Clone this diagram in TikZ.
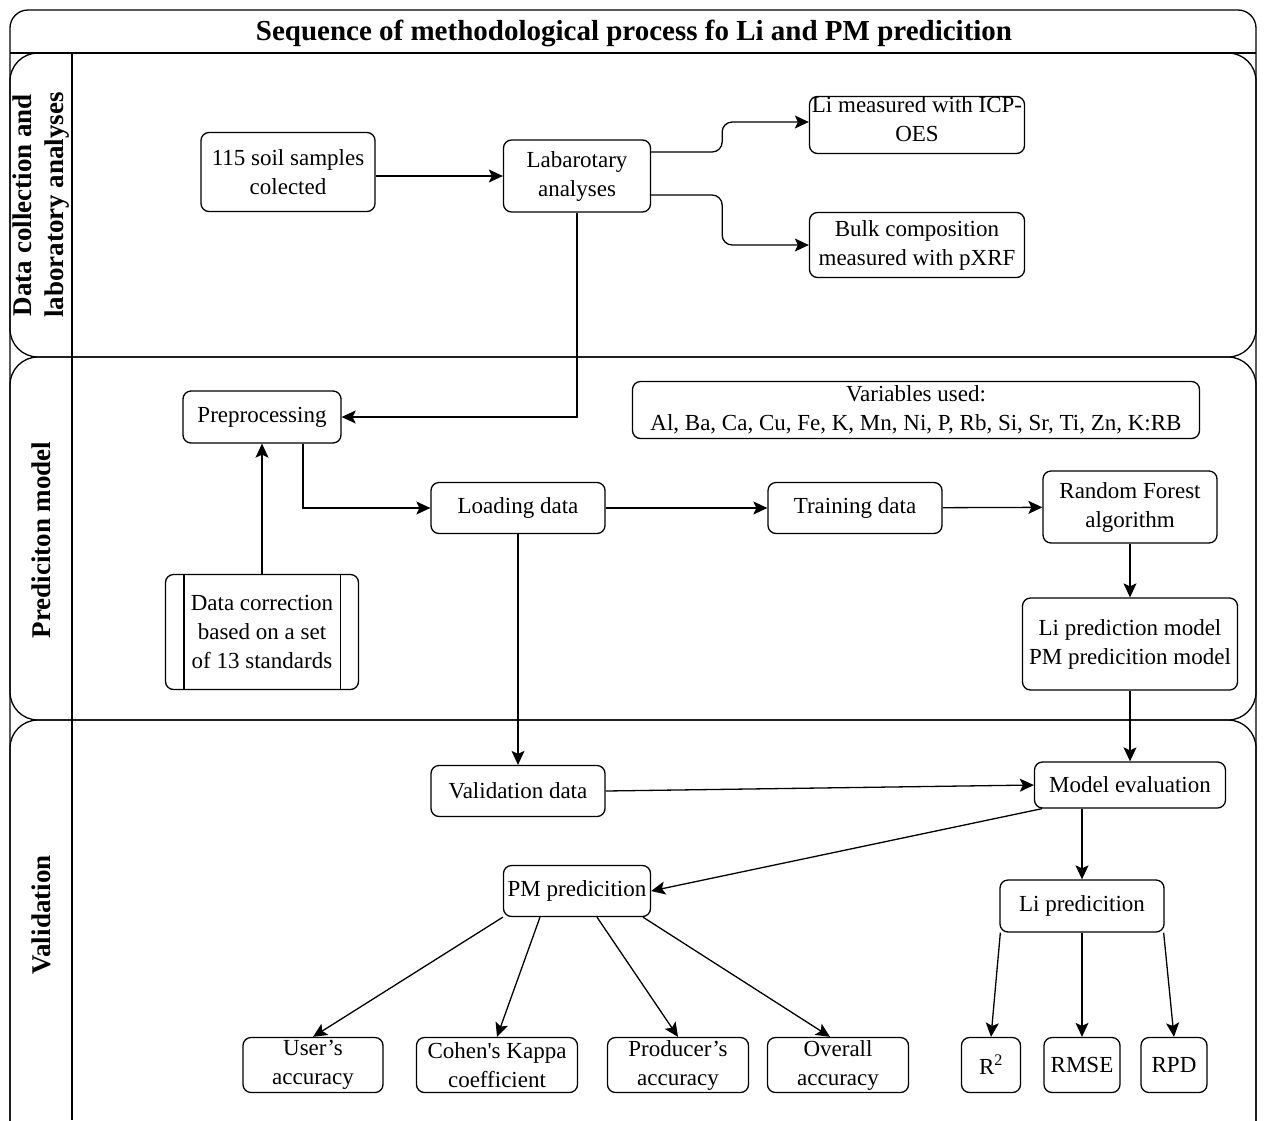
\documentclass[tikz,border=0pt]{standalone}
\usepackage{fontspec}
\setmainfont{Liberation Serif}
\usetikzlibrary{arrows.meta,calc}

\begin{document}
\begin{tikzpicture}[
  x=1pt, y=-1pt,
  line width=1.3pt,
  every node/.style={font=\fontsize{23}{29}\selectfont},
  box/.style={draw, rounded corners=8pt, align=center, inner sep=2pt},
  lanelabel/.style={rotate=90, align=center, font=\fontsize{27}{32}\selectfont\bfseries},
  flow/.style={-{Stealth[length=14pt,width=13pt,inset=3pt]}},
]
\clip (0,0) rectangle (1264,1120);
\draw[rounded corners=18pt] (10,10) rectangle (1256,1150);
\draw (10,53) -- (1256,53);
\node[font=\fontsize{29}{34}\selectfont\bfseries] (title) at (634,33) {Sequence of methodological process fo Li and PM predicition};
\draw[rounded corners=28pt] (10,53) rectangle (1256,357);
\draw[rounded corners=28pt] (10,357) rectangle (1256,720);
\draw[rounded corners=28pt] (10,720) rectangle (1256,1150);
\draw (72,53) -- (72,1120);
\node[lanelabel] (lane1) at (41,205) {Data collection and\\laboratory analyses};
\node[lanelabel] (lane2) at (41,540) {Prediciton model};
\node[lanelabel] (lane3) at (41,915) {Validation};

\node[box, minimum width=174, minimum height=79] (soil) at (288,172) {115 soil samples\\colected};
\node[box, minimum width=147, minimum height=72] (lab) at (577,176) {Labarotary\\analyses};
\node[box, minimum width=215, minimum height=57] (icp) at (917,125) {};
\node[align=center] (icptext) at ([yshift=6pt]icp.center) {Li measured with ICP-\\OES};
\node[box, minimum width=215, minimum height=65] (bulk) at (917,245) {Bulk composition\\measured with pXRF};
\node[box, minimum width=158, minimum height=52] (pre) at (262,417) {Preprocessing};
\node[box, minimum width=567, minimum height=57] (vars) at (916,410) {Variables used:\\Al, Ba, Ca, Cu, Fe, K, Mn, Ni, P, Rb, Si, Sr, Ti, Zn, K:RB};
\node[box, minimum width=174, minimum height=51] (load) at (518,508) {Loading data};
\node[box, minimum width=174, minimum height=51] (train) at (855,508) {Training data};
\node[box, minimum width=174, minimum height=72] (rf) at (1130,507) {Random Forest\\algorithm};
\node[box, minimum width=193, minimum height=115] (corr) at (262,632) {Data correction\\based on a set\\of 13 standards};
\draw ([xshift=19pt]corr.north west) -- ([xshift=19pt]corr.south west);
\draw ([xshift=-19pt]corr.north east) -- ([xshift=-19pt]corr.south east);
\node[box, minimum width=215, minimum height=92] (limod) at (1130,644) {Li prediction model\\PM predicition model};
\node[box, minimum width=174, minimum height=51] (val) at (518,791) {Validation data};
\node[box, minimum width=191, minimum height=46] (eval) at (1130,785) {Model evaluation};
\node[box, minimum width=147, minimum height=51] (pm) at (577,891) {PM predicition};
\node[box, minimum width=164, minimum height=52] (lipred) at (1082,906) {Li predicition};
\node[box, minimum width=140, minimum height=55] (user) at (313,1065) {User’s\\accuracy};
\node[box, minimum width=161, minimum height=55] (cohen) at (497,1065) {Cohen\textquotesingle s Kappa\\coefficient};
\node[box, minimum width=141, minimum height=55] (prod) at (678,1065) {Producer’s\\accuracy};
\node[box, minimum width=141, minimum height=55] (overall) at (838,1065) {Overall\\accuracy};
\node[box, minimum width=59, minimum height=55] (r2) at (991,1065) {R\textsuperscript{2}};
\node[box, minimum width=76, minimum height=55] (rmse) at (1082,1065) {RMSE};
\node[box, minimum width=66, minimum height=55] (rpd) at (1174,1065) {RPD};

\draw[flow] (soil.east |- lab.west) -- (lab.west);
\draw[flow, rounded corners=10pt] ([yshift=24pt]lab.east) -- ++(71,0) |- ([yshift=3pt]icp.west);
\draw[flow, rounded corners=10pt] ([yshift=-19pt]lab.east) -- ++(71,0) |- (bulk.west);
\draw[flow] (lab.south) |- (pre.east);
\draw[flow] ([xshift=41pt]pre.south) |- (load.west);
\draw[flow] (corr.north) -- (pre.south);
\draw[flow] (load) -- (train);
\draw[flow] (train) -- (rf);
\draw[flow] (rf) -- (limod);
\draw[flow] (limod) -- (eval);
\draw[flow] (load) -- (val);
\draw[flow] (val.east) -- (eval.west);
\draw[flow] ([xshift=-88pt]eval.south) -- (pm.east);
\draw[flow] (lipred.north |- eval.south) -- (lipred.north);
\draw[flow] (pm.south west) -- (user.north);
\draw[flow] ([xshift=-37pt]pm.south) -- (cohen.north);
\draw[flow] ([xshift=20pt]pm.south) -- (prod.north);
\draw[flow] ([xshift=66pt]pm.south) -- ([xshift=-8pt]overall.north);
\draw[flow] ([xshift=1pt]lipred.south west) -- (r2.north);
\draw[flow] (lipred.south) -- (rmse.north);
\draw[flow] ([xshift=-1pt]lipred.south east) -- (rpd.north);
\end{tikzpicture}
\end{document}
